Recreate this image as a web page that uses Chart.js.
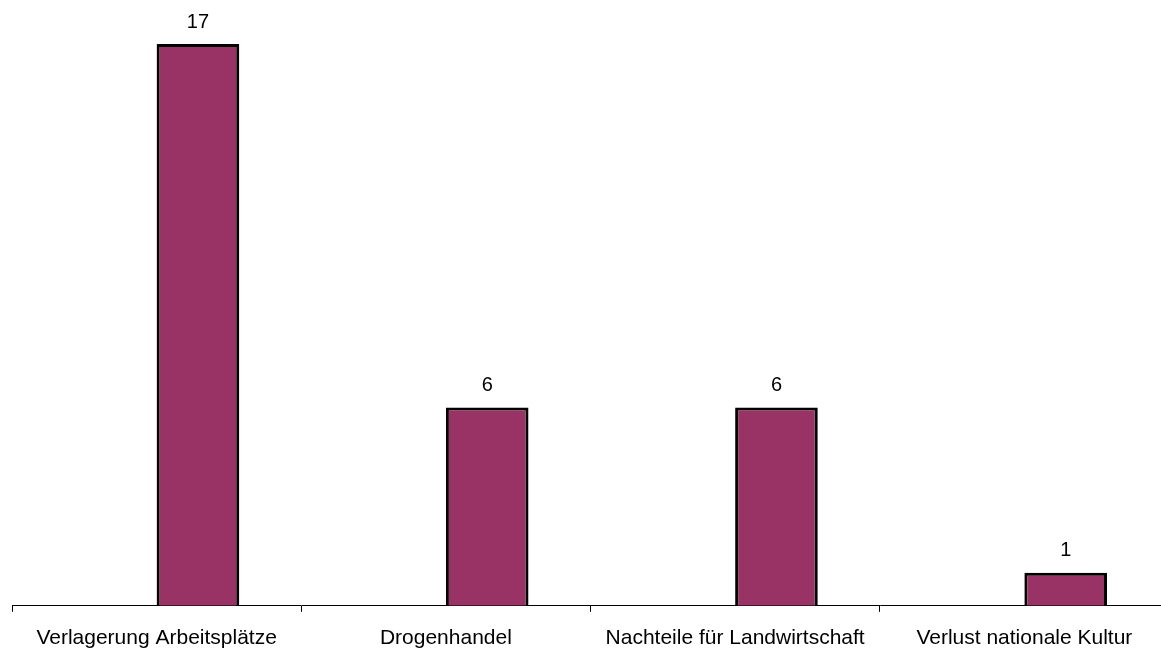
<!DOCTYPE html>
<html>
<head>
<meta charset="utf-8">
<script src="https://cdn.jsdelivr.net/npm/chart.js@4/dist/chart.umd.min.js"></script>
<style>
html,body{margin:0;padding:0;background:#fff;overflow:hidden;}
#wrap{position:relative;width:1180px;height:665px;}
</style>
</head>
<body>
<div id="wrap"><canvas id="c"></canvas></div>
<script>
const categories = ["Verlagerung Arbeitsplätze", "Drogenhandel", "Nachteile für Landwirtschaft", "Verlust nationale Kultur"];
const values = [17, 6, 6, 1];
const emptySeries = [null, null, null, null];

const valueLabels = {
  id: 'valueLabels',
  afterDatasetsDraw(chart) {
    const ctx = chart.ctx;
    const meta = chart.getDatasetMeta(1);
    ctx.save();
    ctx.font = '20px "Liberation Sans", Arial, sans-serif';
    ctx.fillStyle = '#000';
    ctx.textAlign = 'center';
    ctx.textBaseline = 'middle';
    meta.data.forEach((bar, i) => {
      ctx.fillText(String(values[i]), bar.x, bar.y - 22);
    });
    ctx.restore();
  }
};

new Chart(document.getElementById('c'), {
  type: 'bar',
  data: {
    labels: categories,
    datasets: [
      { data: emptySeries, backgroundColor: 'transparent' },
      { data: values, backgroundColor: '#993366', borderColor: '#000', borderWidth: 3 }
    ]
  },
  options: {
    responsive: true,
    maintainAspectRatio: false,
    animation: false,
    categoryPercentage: 2 / 3.5,
    barPercentage: 1,
    layout: { padding: { left: 12, right: 11, top: 11, bottom: 0 } },
    plugins: { legend: { display: false }, tooltip: { enabled: false } },
    scales: {
      x: {
        offset: true,
        grid: { display: true, drawOnChartArea: false, drawTicks: true, tickLength: 6, color: '#000', offset: true },
        border: { display: true, color: '#000', width: 1 },
        ticks: { color: '#000', font: { family: '"Liberation Sans", Arial, sans-serif', size: 21 }, padding: 14, maxRotation: 0, autoSkip: false }
      },
      y: {
        display: false,
        min: 0,
        max: 18
      }
    }
  },
  plugins: [valueLabels]
});
</script>
</body>
</html>
